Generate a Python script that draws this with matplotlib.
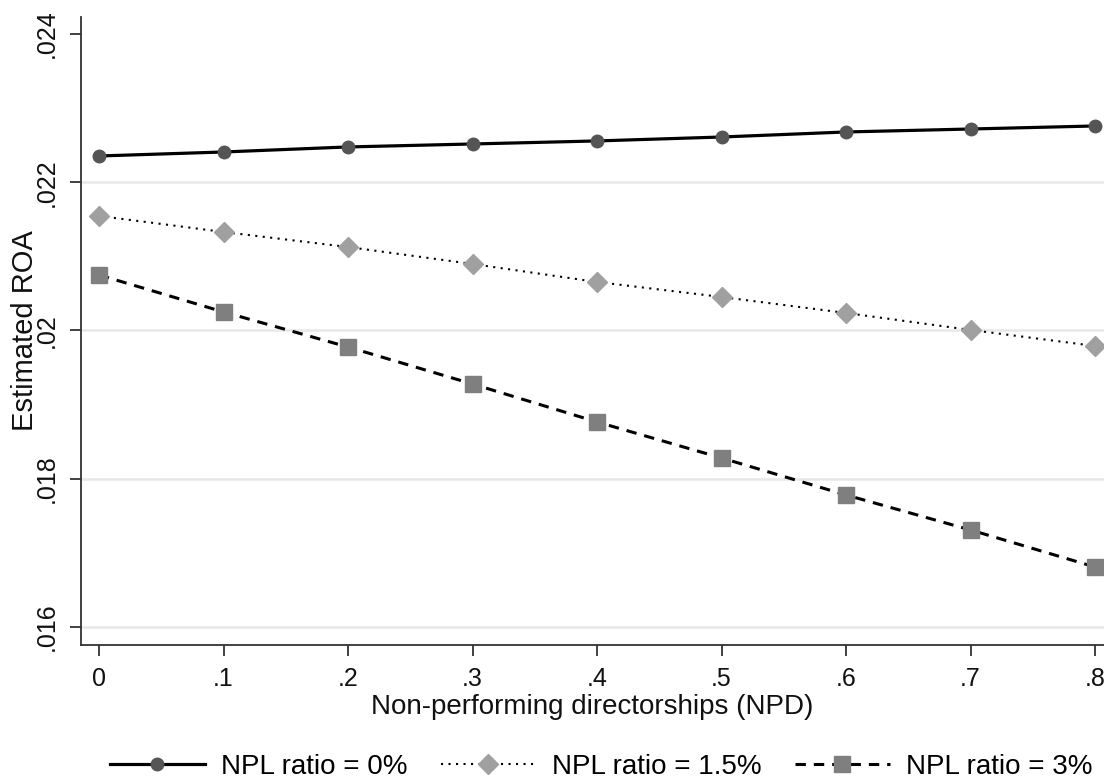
"""
Predicted ROA against non-performing directorships for three NPL ratios
(Stata-style margins plot redrawn in matplotlib).
"""
import matplotlib
matplotlib.use("Agg")
import matplotlib.pyplot as plt
from matplotlib.ticker import FixedLocator, FuncFormatter

plt.rcParams["font.family"] = ["Liberation Sans", "DejaVu Sans"]

npd = [0.0, 0.1, 0.2, 0.3, 0.4, 0.5, 0.6, 0.7, 0.8]

roa_npl_0 = [0.022354, 0.022408, 0.022476, 0.022516, 0.022557,
             0.022610, 0.022678, 0.022718, 0.022759]
roa_npl_15 = [0.021545, 0.021329, 0.021126, 0.020897, 0.020654,
              0.020452, 0.020236, 0.020007, 0.019791]
roa_npl_3 = [0.020749, 0.020250, 0.019777, 0.019278, 0.018766,
             0.018280, 0.017781, 0.017309, 0.016809]

labels = ["NPL ratio = 0%", "NPL ratio = 1.5%", "NPL ratio = 3%"]
x_ticks = [0.0, 0.1, 0.2, 0.3, 0.4, 0.5, 0.6, 0.7, 0.8]
y_ticks = [0.016, 0.018, 0.020, 0.022, 0.024]


def stata_fmt(v, _pos=None):
    # Stata drops the leading zero: .024, .1, 0
    s = f"{v:.3f}".rstrip("0").rstrip(".")
    if s.startswith("0."):
        s = s[1:]
    return s


fig = plt.figure(figsize=(11.04, 7.83), dpi=100)
ax = fig.add_axes([81 / 1104, 1 - 645 / 783, 1 - 81 / 1104, (645 - 17) / 783])

ax.plot(npd, roa_npl_0, color="black", lw=2.3, ls="-",
        marker="o", ms=9, mfc="#555555", mec="#555555", label=labels[0])
ax.plot(npd, roa_npl_15, color="black", lw=1.5, ls=(0, (1, 2.6)),
        marker="D", ms=10, mfc="#a0a0a0", mec="#a0a0a0", label=labels[1])
ax.plot(npd, roa_npl_3, color="black", lw=2.2, ls=(0, (3.4, 2.6)),
        marker="s", ms=12, mfc="#7f7f7f", mec="#7f7f7f", label=labels[2])

ax.set_xlim(-0.01446, 0.8072)
ax.set_ylim(0.015757, 0.024229)

ax.xaxis.set_major_locator(FixedLocator(x_ticks))
ax.yaxis.set_major_locator(FixedLocator(y_ticks))
ax.xaxis.set_major_formatter(FuncFormatter(stata_fmt))
ax.yaxis.set_major_formatter(FuncFormatter(stata_fmt))

ax.tick_params(axis="both", direction="out", length=8, width=1.3,
               color="#333333", labelsize=18, labelcolor="#111111", pad=8)
for lab in ax.get_yticklabels():
    lab.set_rotation(90)
    lab.set_va("center")

ax.grid(axis="y", color="#e8e8e8", lw=1.8)
ax.set_axisbelow(True)
# no gridline at the top tick, like the original
ax.yaxis.get_gridlines()[-1].set_visible(False)

for side in ("top", "right"):
    ax.spines[side].set_visible(False)
for side in ("left", "bottom"):
    ax.spines[side].set_color("#333333")
    ax.spines[side].set_linewidth(1.3)

ax.set_xlabel("Non-performing directorships (NPD)", fontsize=20,
              color="#111111", labelpad=2)
ax.set_ylabel("Estimated ROA", fontsize=21, color="#111111")
ax.yaxis.set_label_coords(-0.041, 0.5)

fig.legend(loc="center", bbox_to_anchor=(601.5 / 1104, 1 - 767 / 783),
           ncol=3, frameon=False, fontsize=20, handlelength=3.4,
           handletextpad=0.6, columnspacing=1.2, borderaxespad=0)

fig.savefig("out.png", dpi=100)
